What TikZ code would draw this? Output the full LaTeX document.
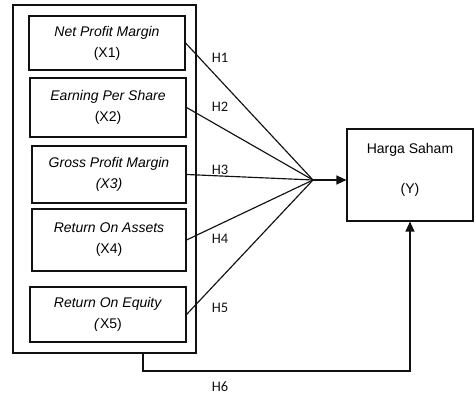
\documentclass[tikz,border=0pt]{standalone}
\usepackage{fontspec}
\setmainfont{Liberation Sans}
\newfontfamily\hfont{Carlito}
\usepackage{tikz}
\usetikzlibrary{arrows.meta,positioning}
\definecolor{linedark}{HTML}{111111}

\tikzset{
    varbox/.style={draw=linedark, line width=1.1pt, align=center, font=\fontsize{14}{21}\selectfont, inner sep=0pt},
    hlabel/.style={font=\hfont\fontsize{14.5}{16}\selectfont, color=linedark},
    link/.style={draw=linedark, line width=1.15pt},
    tip/.style={-{Triangle[length=10pt,width=9pt]}}
}

\begin{document}
\begin{tikzpicture}[x=1pt,y=-1pt]
    \useasboundingbox (0,0) rectangle (475,396);

    % Outer group frame
    \node[draw=linedark, line width=1.2pt, minimum width=183pt, minimum height=348pt, inner sep=0pt] (grp) at (104.5,179) {};

    % Independent variables
    \node[varbox, minimum width=156pt, minimum height=54pt] (x1) at (107,43) {\textit{Net Profit Margin}\\(X1)};
    \node[varbox, minimum width=156pt, minimum height=59pt] (x2) at (108,107.5) {\textit{Earning Per Share}\\(X2)};
    \node[varbox, minimum width=154pt, minimum height=57pt] (x3) at (109,174.5) {\textit{Gross Profit Margin}\\\textit{(X3)}};
    \node[varbox, minimum width=154pt, minimum height=62pt] (x4) at (109,240) {\textit{Return On Assets}\\(X4)};
    \node[varbox, minimum width=156pt, minimum height=55pt] (x5) at (108,314.5) {\textit{Return On Equity}\\\textit{(}X5)};

    % Dependent variable
    \node[varbox, minimum width=126pt, minimum height=92pt] (yb) at (410,175) {Harga Saham\\[19pt](Y)\\[-7pt]};

    % Meeting point of the hypotheses
    \coordinate (hub) at (313,180);

    \foreach \v in {x1,x2,x3,x4,x5} {
        \draw[link] (\v.east) -- (hub);
    }
    \draw[link, tip] (hub) -- (yb.west |- hub);

    % Simultaneous effect
    \coordinate (h6a) at (143,353);
    \coordinate (h6b) at (143,371);
    \draw[link, tip] (h6a) -- (h6b) -- (yb.south |- h6b) -- (yb.south);

    % Labels
    \node[hlabel] (l1) at (220,58) {H1};
    \node[hlabel] (l2) at (220,107) {H2};
    \node[hlabel] (l3) at (220,170) {H3};
    \node[hlabel] (l4) at (220,239) {H4};
    \node[hlabel] (l5) at (220,308) {H5};
    \node[hlabel] (l6) at (220,387) {H6};
\end{tikzpicture}
\end{document}
